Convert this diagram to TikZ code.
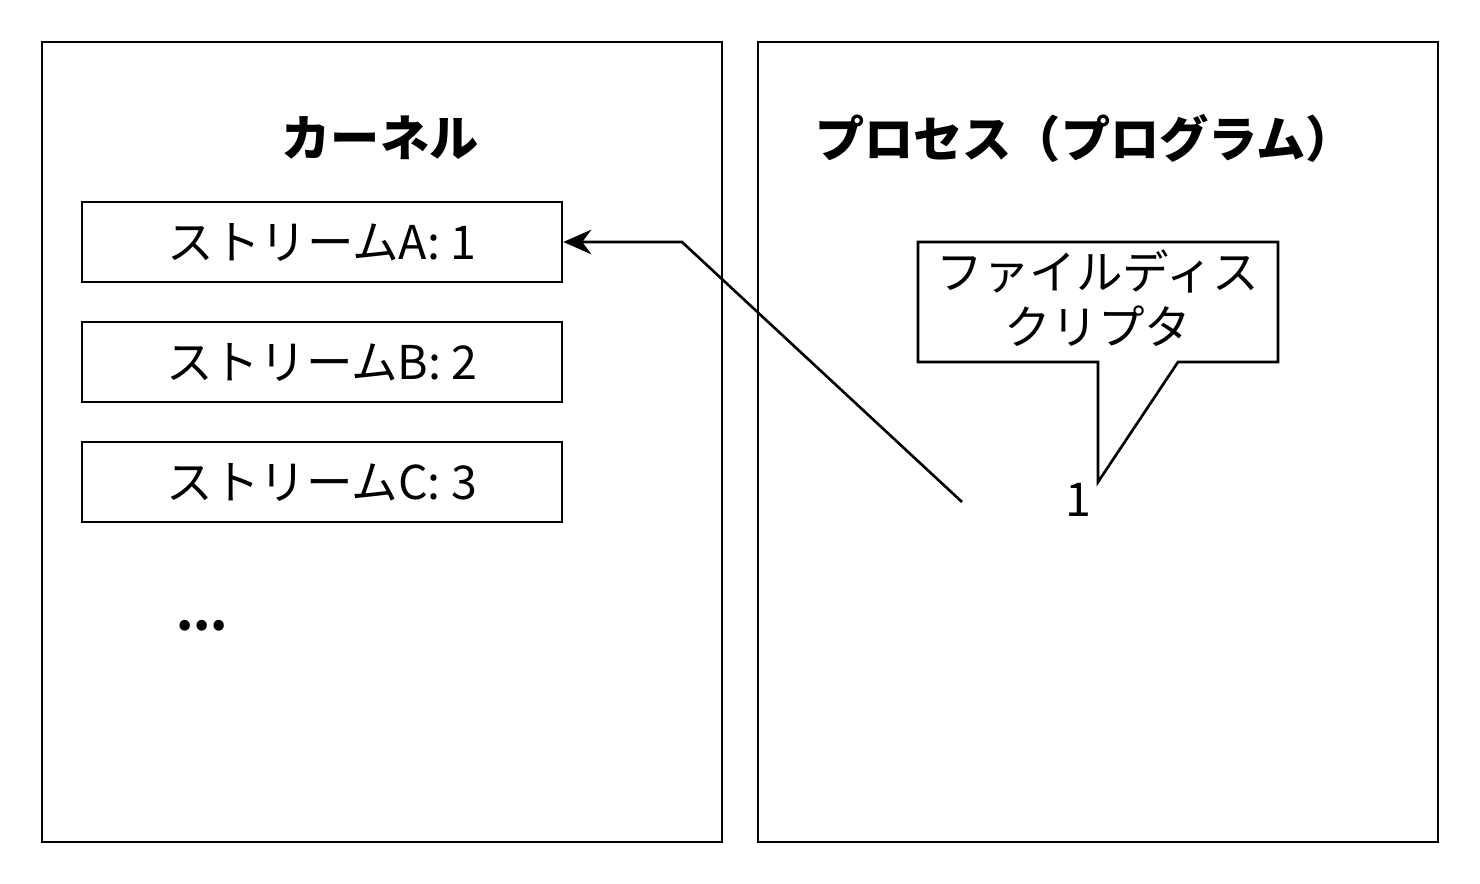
\documentclass[tikz,border=0pt]{standalone}
\usepackage{fontspec}
\setmainfont{Noto Sans CJK JP}
\usetikzlibrary{arrows.meta}
\tikzset{
    stream/.style={draw, line width=1.5pt, minimum width=9.6cm, minimum height=1.6cm, inner sep=0pt, font=\fontsize{26.5}{30}\selectfont},
    title/.style={font=\fontsize{28}{32}\selectfont\bfseries},
}
\begin{document}
\begin{tikzpicture}[x=0.02cm, y=-0.02cm]
        \useasboundingbox (0,0) rectangle (1480,884);

        \draw[line width=1.5pt] (42,42) rectangle (722,842);
        \draw[line width=1.5pt] (758,42) rectangle (1438,842);

        \node[title] (kernel) at (380,138) {カーネル};
        \node[title] (proc) at (1085,138) {プロセス（プログラム）};

        \node[stream] (sa) at (322,242) {ストリームA: 1};
        \node[stream] (sb) at (322,362) {ストリームB: 2};
        \node[stream] (sc) at (322,482) {ストリームC: 3};
        \node[title] (dots) at (202,626) {...};

        % callout
        \draw[line width=1.5pt, fill=white] (918,242) -- (1278,242) -- (1278,362) -- (1178,362)
            -- (1098,482) -- (1098,362) -- (918,362) -- cycle;
        \node[align=center, font=\fontsize{26.5}{31}\selectfont] (fd) at (1098,298) {ファイルディス\\クリプタ};
        \node[font=\fontsize{26.5}{30}\selectfont] (one) at (1078,500) {1};

        \coordinate (src) at (962,502);
        \coordinate (bend) at (682,242);
        \draw[line width=1.5pt, -{Stealth[length=16pt, width=14pt]}] (src) -- (bend) -- (sa.east);
    \end{tikzpicture}
\end{document}
